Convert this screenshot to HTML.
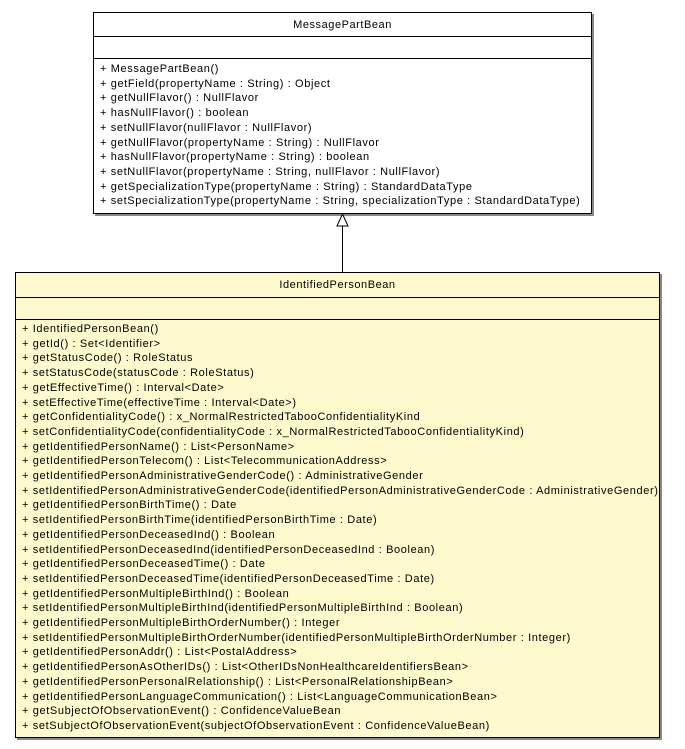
<!DOCTYPE html>
<html><head><meta charset="utf-8"><style>
body{margin:0;width:685px;height:749px;background:#fff;position:relative;font-family:"Liberation Sans",Arial,sans-serif;font-size:11px;color:#000;overflow:hidden}
.box{position:absolute;border:1px solid #000;box-shadow:2px 2px 0 #888;box-sizing:border-box}
.hd{position:absolute;left:0;right:0;text-align:center;line-height:22px;top:0;letter-spacing:0.55px}
.ln{position:absolute;left:0;right:0;border-top:1px solid #000}
.m{position:absolute;left:6px;white-space:pre;line-height:14.7px;letter-spacing:0.62px}
</style></head><body>
<div class="box" style="left:93px;top:12px;width:499px;height:202px;background:#fff">
 <div class="hd" style="height:24px;line-height:24px">MessagePartBean</div>
 <div class="ln" style="top:23px"></div>
 <div class="ln" style="top:45px"></div>
 <div class="m" style="top:49px">+ MessagePartBean()
+ getField(propertyName : String) : Object
+ getNullFlavor() : NullFlavor
+ hasNullFlavor() : boolean
+ setNullFlavor(nullFlavor : NullFlavor)
+ getNullFlavor(propertyName : String) : NullFlavor
+ hasNullFlavor(propertyName : String) : boolean
+ setNullFlavor(propertyName : String, nullFlavor : NullFlavor)
+ getSpecializationType(propertyName : String) : StandardDataType
+ setSpecializationType(propertyName : String, specializationType : StandardDataType)</div>
</div>
<svg style="position:absolute;left:0;top:0" width="685" height="749">
 <line x1="342.5" y1="226" x2="342.5" y2="272" stroke="#000" stroke-width="1"/>
 <polygon points="342.5,214 337,226 348,226" fill="#fff" stroke="#000"/>
</svg>
<div class="box" style="left:15px;top:272px;width:645px;height:466px;background:#fffacd">
 <div class="hd" style="height:25px;line-height:24px">IdentifiedPersonBean</div>
 <div class="ln" style="top:24px"></div>
 <div class="ln" style="top:46px"></div>
 <div class="m" style="top:49px">+ IdentifiedPersonBean()
+ getId() : Set&lt;Identifier&gt;
+ getStatusCode() : RoleStatus
+ setStatusCode(statusCode : RoleStatus)
+ getEffectiveTime() : Interval&lt;Date&gt;
+ setEffectiveTime(effectiveTime : Interval&lt;Date&gt;)
+ getConfidentialityCode() : x_NormalRestrictedTabooConfidentialityKind
+ setConfidentialityCode(confidentialityCode : x_NormalRestrictedTabooConfidentialityKind)
+ getIdentifiedPersonName() : List&lt;PersonName&gt;
+ getIdentifiedPersonTelecom() : List&lt;TelecommunicationAddress&gt;
+ getIdentifiedPersonAdministrativeGenderCode() : AdministrativeGender
+ setIdentifiedPersonAdministrativeGenderCode(identifiedPersonAdministrativeGenderCode : AdministrativeGender)
+ getIdentifiedPersonBirthTime() : Date
+ setIdentifiedPersonBirthTime(identifiedPersonBirthTime : Date)
+ getIdentifiedPersonDeceasedInd() : Boolean
+ setIdentifiedPersonDeceasedInd(identifiedPersonDeceasedInd : Boolean)
+ getIdentifiedPersonDeceasedTime() : Date
+ setIdentifiedPersonDeceasedTime(identifiedPersonDeceasedTime : Date)
+ getIdentifiedPersonMultipleBirthInd() : Boolean
+ setIdentifiedPersonMultipleBirthInd(identifiedPersonMultipleBirthInd : Boolean)
+ getIdentifiedPersonMultipleBirthOrderNumber() : Integer
+ setIdentifiedPersonMultipleBirthOrderNumber(identifiedPersonMultipleBirthOrderNumber : Integer)
+ getIdentifiedPersonAddr() : List&lt;PostalAddress&gt;
+ getIdentifiedPersonAsOtherIDs() : List&lt;OtherIDsNonHealthcareIdentifiersBean&gt;
+ getIdentifiedPersonPersonalRelationship() : List&lt;PersonalRelationshipBean&gt;
+ getIdentifiedPersonLanguageCommunication() : List&lt;LanguageCommunicationBean&gt;
+ getSubjectOfObservationEvent() : ConfidenceValueBean
+ setSubjectOfObservationEvent(subjectOfObservationEvent : ConfidenceValueBean)</div>
</div>
</body></html>
